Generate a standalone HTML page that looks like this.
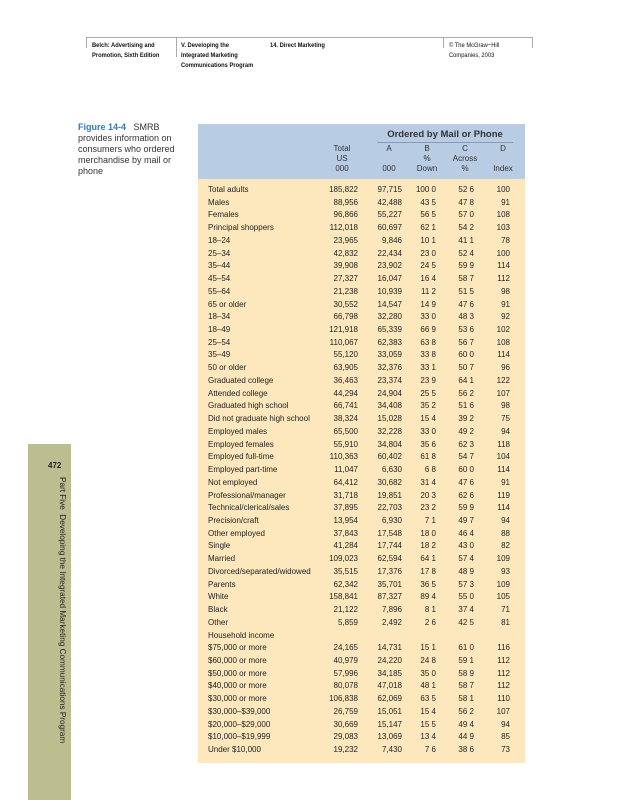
<!DOCTYPE html>
<html><head><meta charset="utf-8"><style>
body{margin:0;width:617px;height:800px;background:#fff;position:relative;overflow:hidden;font-family:"Liberation Sans",sans-serif;color:#222}
.a{position:absolute}
.hd{font-family:"Liberation Sans",sans-serif;font-weight:bold;font-size:6.8px;line-height:10px;color:#111;transform:scaleX(.85);transform-origin:left top}
.cap{font-size:9px;line-height:11px;color:#333}
.row{position:absolute;left:0;width:327px;height:12.73px;font-size:8px;line-height:12.73px}
.row span{position:absolute;top:0}
.l{left:10px}.t{right:167px}.x{right:123px}.b{right:89px}.c{right:51px}.d{right:15px}
.h{position:absolute;font-size:8px;line-height:10px;text-align:center;width:50px;color:#333}
</style></head><body>
<div class="a" style="left:86px;top:37px;width:446px;border-top:1px solid #aaa"></div>
<div class="a" style="left:86px;top:37px;height:11px;border-left:1px solid #aaa"></div>
<div class="a" style="left:176px;top:37px;height:20px;border-left:1px solid #aaa"></div>
<div class="a" style="left:443px;top:37px;height:11px;border-left:1px solid #aaa"></div>
<div class="a" style="left:532px;top:37px;height:11px;border-left:1px solid #aaa"></div>
<div class="a hd" style="left:92px;top:41px">Belch: Advertising and<br>Promotion, Sixth Edition</div>
<div class="a hd" style="left:181px;top:41px">V. Developing the<br>Integrated Marketing<br>Communications Program</div>
<div class="a hd" style="left:270px;top:41px">14. Direct Marketing</div>
<div class="a hd" style="left:449px;top:41px;font-weight:normal">© The McGraw−Hill<br>Companies, 2003</div>

<div class="a cap" style="left:78px;top:122px;width:108px"><span style="color:#3a78b5;font-weight:bold">Figure 14-4</span>&nbsp;&nbsp; SMRB provides information on consumers who ordered merchandise by mail or phone</div>

<div class="a" style="left:28px;top:444px;width:43px;height:356px;background:#bbbf90"></div>
<div class="a" style="left:48px;top:461px;font-size:8px;font-weight:bold;color:#222">472</div>
<div class="a" style="left:67px;top:477px;transform:rotate(90deg);transform-origin:left top;white-space:nowrap;font-size:8.2px;color:#222">Part Five&nbsp; Developing the Integrated Marketing Communications Program</div>

<div class="a" style="left:198px;top:124px;width:327px;height:55px;background:#b8cce4"></div>
<div class="a" style="left:198px;top:179px;width:327px;height:584px;background:#fde8bd"></div>
<div class="a" style="left:377px;top:129px;width:136px;text-align:center;font-size:9.5px;font-weight:bold;color:#333">Ordered by Mail or Phone</div>
<div class="a" style="left:377px;top:142px;width:136px;border-top:1px solid #8a9ab0"></div>
<div class="h" style="left:317px;top:144px">Total<br>US<br>000</div>
<div class="h" style="left:364px;top:144px">A<br><br>000</div>
<div class="h" style="left:402px;top:144px">B<br>%<br>Down</div>
<div class="h" style="left:440px;top:144px">C<br>Across<br>%</div>
<div class="h" style="left:478px;top:144px">D<br><br>Index</div>

<div class="a" style="left:198px;top:184px;width:327px;height:579px">
<div class="row" style="top:0.0px"><span class="l">Total adults</span><span class="t">185,822</span><span class="x">97,715</span><span class="b">100 0</span><span class="c">52 6</span><span class="d">100</span></div>
<div class="row" style="top:12.73px"><span class="l">Males</span><span class="t">88,956</span><span class="x">42,488</span><span class="b">43 5</span><span class="c">47 8</span><span class="d">91</span></div>
<div class="row" style="top:25.46px"><span class="l">Females</span><span class="t">96,866</span><span class="x">55,227</span><span class="b">56 5</span><span class="c">57 0</span><span class="d">108</span></div>
<div class="row" style="top:38.19px"><span class="l">Principal shoppers</span><span class="t">112,018</span><span class="x">60,697</span><span class="b">62 1</span><span class="c">54 2</span><span class="d">103</span></div>
<div class="row" style="top:50.92px"><span class="l">18–24</span><span class="t">23,965</span><span class="x">9,846</span><span class="b">10 1</span><span class="c">41 1</span><span class="d">78</span></div>
<div class="row" style="top:63.65px"><span class="l">25–34</span><span class="t">42,832</span><span class="x">22,434</span><span class="b">23 0</span><span class="c">52 4</span><span class="d">100</span></div>
<div class="row" style="top:76.38px"><span class="l">35–44</span><span class="t">39,908</span><span class="x">23,902</span><span class="b">24 5</span><span class="c">59 9</span><span class="d">114</span></div>
<div class="row" style="top:89.11px"><span class="l">45–54</span><span class="t">27,327</span><span class="x">16,047</span><span class="b">16 4</span><span class="c">58 7</span><span class="d">112</span></div>
<div class="row" style="top:101.84px"><span class="l">55–64</span><span class="t">21,238</span><span class="x">10,939</span><span class="b">11 2</span><span class="c">51 5</span><span class="d">98</span></div>
<div class="row" style="top:114.57px"><span class="l">65 or older</span><span class="t">30,552</span><span class="x">14,547</span><span class="b">14 9</span><span class="c">47 6</span><span class="d">91</span></div>
<div class="row" style="top:127.3px"><span class="l">18–34</span><span class="t">66,798</span><span class="x">32,280</span><span class="b">33 0</span><span class="c">48 3</span><span class="d">92</span></div>
<div class="row" style="top:140.03px"><span class="l">18–49</span><span class="t">121,918</span><span class="x">65,339</span><span class="b">66 9</span><span class="c">53 6</span><span class="d">102</span></div>
<div class="row" style="top:152.76px"><span class="l">25–54</span><span class="t">110,067</span><span class="x">62,383</span><span class="b">63 8</span><span class="c">56 7</span><span class="d">108</span></div>
<div class="row" style="top:165.49px"><span class="l">35–49</span><span class="t">55,120</span><span class="x">33,059</span><span class="b">33 8</span><span class="c">60 0</span><span class="d">114</span></div>
<div class="row" style="top:178.22px"><span class="l">50 or older</span><span class="t">63,905</span><span class="x">32,376</span><span class="b">33 1</span><span class="c">50 7</span><span class="d">96</span></div>
<div class="row" style="top:190.95px"><span class="l">Graduated college</span><span class="t">36,463</span><span class="x">23,374</span><span class="b">23 9</span><span class="c">64 1</span><span class="d">122</span></div>
<div class="row" style="top:203.68px"><span class="l">Attended college</span><span class="t">44,294</span><span class="x">24,904</span><span class="b">25 5</span><span class="c">56 2</span><span class="d">107</span></div>
<div class="row" style="top:216.41px"><span class="l">Graduated high school</span><span class="t">66,741</span><span class="x">34,408</span><span class="b">35 2</span><span class="c">51 6</span><span class="d">98</span></div>
<div class="row" style="top:229.14px"><span class="l">Did not graduate high school</span><span class="t">38,324</span><span class="x">15,028</span><span class="b">15 4</span><span class="c">39 2</span><span class="d">75</span></div>
<div class="row" style="top:241.87px"><span class="l">Employed males</span><span class="t">65,500</span><span class="x">32,228</span><span class="b">33 0</span><span class="c">49 2</span><span class="d">94</span></div>
<div class="row" style="top:254.6px"><span class="l">Employed females</span><span class="t">55,910</span><span class="x">34,804</span><span class="b">35 6</span><span class="c">62 3</span><span class="d">118</span></div>
<div class="row" style="top:267.33px"><span class="l">Employed full-time</span><span class="t">110,363</span><span class="x">60,402</span><span class="b">61 8</span><span class="c">54 7</span><span class="d">104</span></div>
<div class="row" style="top:280.06px"><span class="l">Employed part-time</span><span class="t">11,047</span><span class="x">6,630</span><span class="b">6 8</span><span class="c">60 0</span><span class="d">114</span></div>
<div class="row" style="top:292.79px"><span class="l">Not employed</span><span class="t">64,412</span><span class="x">30,682</span><span class="b">31 4</span><span class="c">47 6</span><span class="d">91</span></div>
<div class="row" style="top:305.52px"><span class="l">Professional/manager</span><span class="t">31,718</span><span class="x">19,851</span><span class="b">20 3</span><span class="c">62 6</span><span class="d">119</span></div>
<div class="row" style="top:318.25px"><span class="l">Technical/clerical/sales</span><span class="t">37,895</span><span class="x">22,703</span><span class="b">23 2</span><span class="c">59 9</span><span class="d">114</span></div>
<div class="row" style="top:330.98px"><span class="l">Precision/craft</span><span class="t">13,954</span><span class="x">6,930</span><span class="b">7 1</span><span class="c">49 7</span><span class="d">94</span></div>
<div class="row" style="top:343.71px"><span class="l">Other employed</span><span class="t">37,843</span><span class="x">17,548</span><span class="b">18 0</span><span class="c">46 4</span><span class="d">88</span></div>
<div class="row" style="top:356.44px"><span class="l">Single</span><span class="t">41,284</span><span class="x">17,744</span><span class="b">18 2</span><span class="c">43 0</span><span class="d">82</span></div>
<div class="row" style="top:369.17px"><span class="l">Married</span><span class="t">109,023</span><span class="x">62,594</span><span class="b">64 1</span><span class="c">57 4</span><span class="d">109</span></div>
<div class="row" style="top:381.9px"><span class="l">Divorced/separated/widowed</span><span class="t">35,515</span><span class="x">17,376</span><span class="b">17 8</span><span class="c">48 9</span><span class="d">93</span></div>
<div class="row" style="top:394.63px"><span class="l">Parents</span><span class="t">62,342</span><span class="x">35,701</span><span class="b">36 5</span><span class="c">57 3</span><span class="d">109</span></div>
<div class="row" style="top:407.36px"><span class="l">White</span><span class="t">158,841</span><span class="x">87,327</span><span class="b">89 4</span><span class="c">55 0</span><span class="d">105</span></div>
<div class="row" style="top:420.09px"><span class="l">Black</span><span class="t">21,122</span><span class="x">7,896</span><span class="b">8 1</span><span class="c">37 4</span><span class="d">71</span></div>
<div class="row" style="top:432.82px"><span class="l">Other</span><span class="t">5,859</span><span class="x">2,492</span><span class="b">2 6</span><span class="c">42 5</span><span class="d">81</span></div>
<div class="row" style="top:445.55px"><span class="l">Household income</span></div>
<div class="row" style="top:458.28px"><span class="l">$75,000 or more</span><span class="t">24,165</span><span class="x">14,731</span><span class="b">15 1</span><span class="c">61 0</span><span class="d">116</span></div>
<div class="row" style="top:471.01px"><span class="l">$60,000 or more</span><span class="t">40,979</span><span class="x">24,220</span><span class="b">24 8</span><span class="c">59 1</span><span class="d">112</span></div>
<div class="row" style="top:483.74px"><span class="l">$50,000 or more</span><span class="t">57,996</span><span class="x">34,185</span><span class="b">35 0</span><span class="c">58 9</span><span class="d">112</span></div>
<div class="row" style="top:496.47px"><span class="l">$40,000 or more</span><span class="t">80,078</span><span class="x">47,018</span><span class="b">48 1</span><span class="c">58 7</span><span class="d">112</span></div>
<div class="row" style="top:509.2px"><span class="l">$30,000 or more</span><span class="t">106,838</span><span class="x">62,069</span><span class="b">63 5</span><span class="c">58 1</span><span class="d">110</span></div>
<div class="row" style="top:521.93px"><span class="l">$30,000–$39,000</span><span class="t">26,759</span><span class="x">15,051</span><span class="b">15 4</span><span class="c">56 2</span><span class="d">107</span></div>
<div class="row" style="top:534.66px"><span class="l">$20,000–$29,000</span><span class="t">30,669</span><span class="x">15,147</span><span class="b">15 5</span><span class="c">49 4</span><span class="d">94</span></div>
<div class="row" style="top:547.39px"><span class="l">$10,000–$19,999</span><span class="t">29,083</span><span class="x">13,069</span><span class="b">13 4</span><span class="c">44 9</span><span class="d">85</span></div>
<div class="row" style="top:560.12px"><span class="l">Under $10,000</span><span class="t">19,232</span><span class="x">7,430</span><span class="b">7 6</span><span class="c">38 6</span><span class="d">73</span></div>
</div>
</body></html>
